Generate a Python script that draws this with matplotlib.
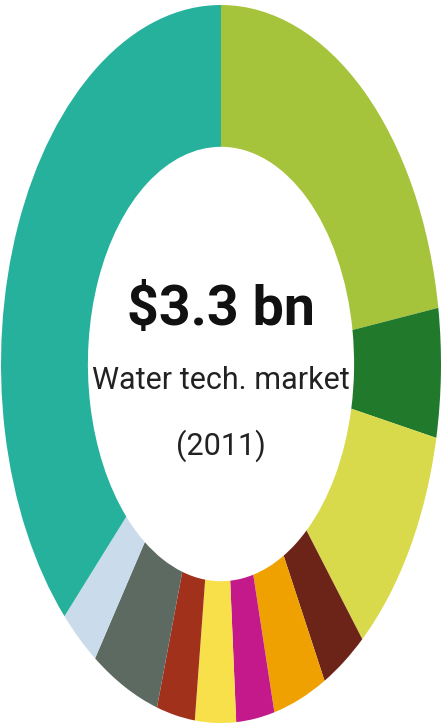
import matplotlib as mpl
import matplotlib.pyplot as plt

mpl.rcParams['savefig.dpi'] = 100

#==============================================================================
# Market share by segment, clockwise from 12 o'clock (percent)
segments = ['seg1', 'seg2', 'seg3', 'seg4', 'seg5', 'seg6',
            'seg7', 'seg8', 'seg9', 'seg10', 'seg11']
shares = [22.5, 5.8, 10.6, 3.3, 3.9, 2.8, 3.0, 2.8, 5.0, 2.9, 37.4]
colors = ['#a6c43b', '#217a2b', '#d8da4b', '#6c2418', '#f0a102', '#c4198b',
          '#f8e04b', '#a1311b', '#5d6a62', '#cadcec', '#25b19b']

total_label = '$3.3 bn'
sub_label = 'Water tech. market'
year_label = '(2011)'
#==============================================================================

fig = plt.figure(figsize=(4.42, 7.28))
ax = fig.add_axes([0, 0, 1, 1])

ax.pie(shares, colors=colors, startangle=90, counterclock=False,
       radius=1.0, wedgeprops=dict(width=0.395, linewidth=0))

# the ring is stretched to fill the tall frame
ax.set_aspect('auto')
ax.set_xlim(-221 / 220, 221 / 220)
ax.set_ylim(-364 / 359, 364 / 359)
ax.axis('off')

fam = ['Roboto', 'DejaVu Sans']
ax.text(0, 0.15, total_label, ha='center', va='center', fontsize=40,
        fontweight='bold', family=fam, color='#111111')
ax.text(0, -0.047, sub_label, ha='center', va='center', fontsize=22,
        family=fam, color='#222222')
ax.text(0, -0.228, year_label, ha='center', va='center', fontsize=22,
        family=fam, color='#222222')

plt.savefig('out.png', dpi=100)
